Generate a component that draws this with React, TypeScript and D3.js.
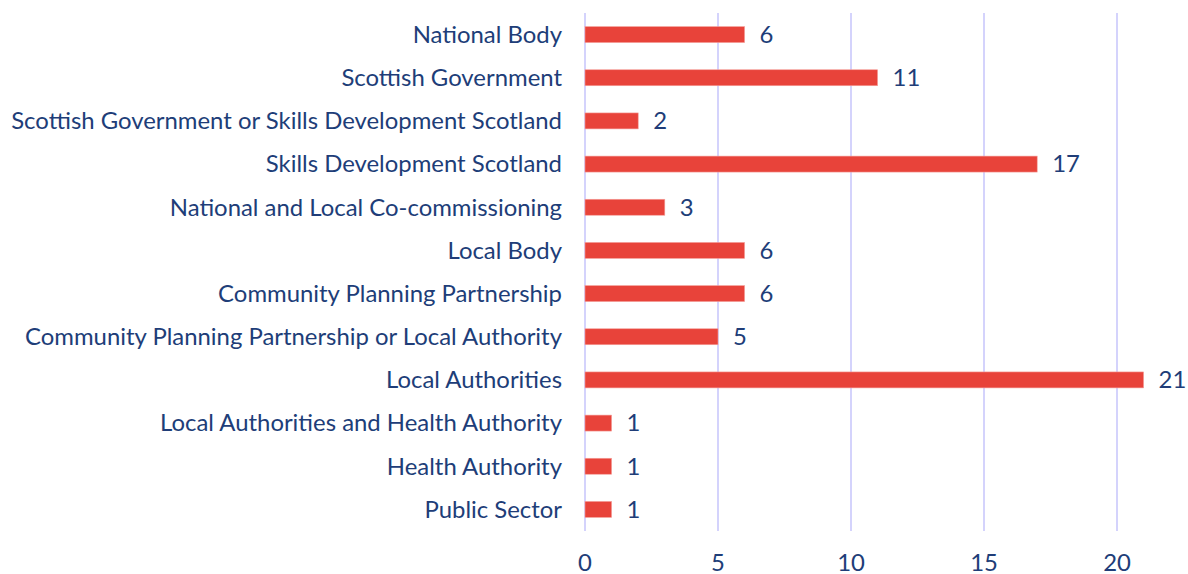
import React from "react";
import * as d3 from "d3";

const categories = [
  "National Body",
  "Scottish Government",
  "Scottish Government or Skills Development Scotland",
  "Skills Development Scotland",
  "National and Local Co-commissioning",
  "Local Body",
  "Community Planning Partnership",
  "Community Planning Partnership or Local Authority",
  "Local Authorities",
  "Local Authorities and Health Authority",
  "Health Authority",
  "Public Sector",
];
const values = [6, 11, 2, 17, 3, 6, 6, 5, 21, 1, 1, 1];
const ticks = [0, 5, 10, 15, 20];

const W = 1188;
const H = 574;
const left = 585;
const top = 13;
const bottom = 531;
const textColor = "#203d78";
const barColor = "#e8433a";
const gridColor = "#c6c4fb";
const font = "Lato, 'Open Sans', sans-serif";
const fs = 23.9;

export default function App() {
  const x = d3.scaleLinear().domain([0, 20]).range([left, 1117]);
  const y = d3.scaleBand<string>().domain(categories).range([top, bottom]).paddingInner(0.63).paddingOuter(0.315);
  return (
    <svg width={W} height={H} style={{ position: "absolute", left: 0, top: 0 }}>
      <rect width={W} height={H} fill="#fff" />
      {ticks.map((t) => (
        <line key={t} x1={x(t)} x2={x(t)} y1={top} y2={bottom} stroke={gridColor} strokeWidth={1.5} />
      ))}
      {categories.map((c, i) => {
        const yc = (y(c) as number) + y.bandwidth() / 2;
        return (
          <g key={c}>
            <rect
              x={x(0)}
              y={y(c)}
              width={x(values[i]) - x(0)}
              height={y.bandwidth()}
              fill={barColor}
              stroke="#f4a09a"
              strokeWidth={0.6}
            />
            <text x={562} y={yc} dy="0.35em" textAnchor="end" fontFamily={font} fontSize={fs} fill={textColor}>
              {c}
            </text>
            <text x={x(values[i]) + 15} y={yc} dy="0.35em" fontFamily={font} fontSize={fs} fill={textColor}>
              {values[i]}
            </text>
          </g>
        );
      })}
      {ticks.map((t) => (
        <text key={"l" + t} x={x(t)} y={563} dy="0.35em" textAnchor="middle" fontFamily={font} fontSize={fs} fill={textColor}>
          {t}
        </text>
      ))}
    </svg>
  );
}
